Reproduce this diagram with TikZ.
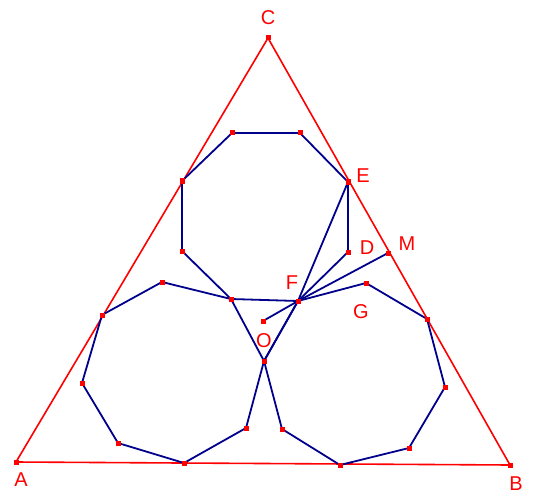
\documentclass[tikz,border=0pt]{standalone}
\usepackage{fontspec}
\setmainfont{Liberation Sans}
\begin{document}
\begin{tikzpicture}[x=1pt,y=-1pt,
  tri/.style={draw=red, line width=1.6pt},
  poly/.style={draw={rgb,255:red,0;green,0;blue,140}, line width=1.8pt, line join=round},
  lbl/.style={text=red, font=\fontsize{20}{20}\selectfont, inner sep=0pt},
  mk/.style={fill=red, draw=none}]
\useasboundingbox (0,0) rectangle (534,494);
% points
\coordinate (A) at (16,462);
\coordinate (B) at (510,465);
\coordinate (C) at (268,38);
% top octagon
\coordinate (t1) at (232,133);
\coordinate (t2) at (300,133);
\coordinate (E) at (348,182);
\coordinate (D) at (348,252);
\coordinate (F) at (298,301);
\coordinate (t6) at (231,299);
\coordinate (t7) at (182,251);
\coordinate (t8) at (182,181);
% left octagon
\coordinate (l1) at (102,315);
\coordinate (l2) at (162,282);
\coordinate (P) at (264,361);
\coordinate (l4) at (246,428);
\coordinate (l5) at (184,463);
\coordinate (l6) at (118,443);
\coordinate (l7) at (82,383);
% right octagon
\coordinate (G) at (366,283);
\coordinate (r3) at (427,319);
\coordinate (r4) at (445,387);
\coordinate (r5) at (409,448);
\coordinate (r6) at (340,465);
\coordinate (r7) at (282,429);
% others
\coordinate (M) at (388,253);
\coordinate (O) at (263,321);
% triangle
\draw[tri] (A) -- (B) -- (C) -- cycle;
% polygons
\draw[poly] (t1) -- (t2) -- (E) -- (D) -- (F) -- (t6) -- (t7) -- (t8) -- cycle;
\draw[poly] (l1) -- (l2) -- (t6) -- (P) -- (l4) -- (l5) -- (l6) -- (l7) -- cycle;
\draw[poly] (F) -- (G) -- (r3) -- (r4) -- (r5) -- (r6) -- (r7) -- (P) -- cycle;
\draw[poly] (E) -- (F) -- (P);
\draw[poly] (F) -- (M);
\draw[poly] (F) -- (O);
% markers
\foreach \p in {A,B,C,t1,t2,E,D,F,t6,t7,t8,l1,l2,P,l4,l5,l6,l7,G,r3,r4,r5,r6,r7,M,O}
  \fill[mk] (\p) ++(-2.5,-2.5) rectangle ++(5,5);
% labels
\node[lbl] (lC) at (268,18) {C};
\node[lbl] (lE) at (363,176) {E};
\node[lbl] (lD) at (367,248) {D};
\node[lbl] (lM) at (407,244) {M};
\node[lbl] (lF) at (292,283) {F};
\node[lbl] (lG) at (361,312) {G};
\node[lbl] (lO) at (264,341) {O};
\node[lbl] (lA) at (21,480) {A};
\node[lbl] (lB) at (516,484) {B};
\end{tikzpicture}
\end{document}
